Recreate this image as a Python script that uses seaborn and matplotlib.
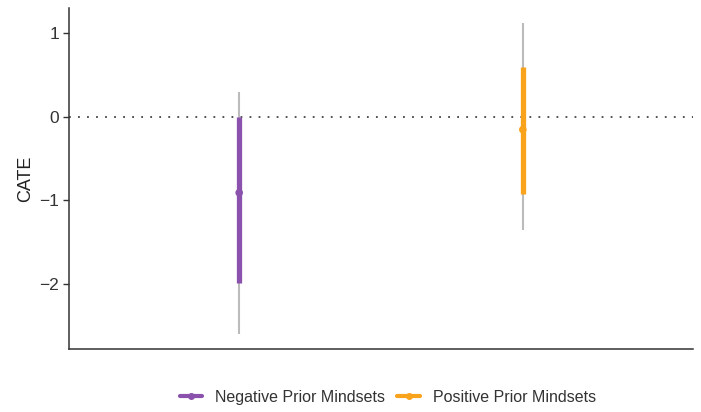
import matplotlib
matplotlib.use("Agg")
import matplotlib.pyplot as plt
from matplotlib.lines import Line2D
import seaborn as sns
import pandas as pd

# Conditional average treatment effects by prior mindset
groups = ["Negative Prior Mindsets", "Positive Prior Mindsets"]
cate = [-0.91, -0.155]
inner_low = [-1.99, -0.93]
inner_high = [0.0, 0.60]
outer_low = [-2.60, -1.36]
outer_high = [0.30, 1.12]
colors = ["#8A52AC", "#F9A21B"]

df = pd.DataFrame({
    "group": groups, "cate": cate,
    "inner_low": inner_low, "inner_high": inner_high,
    "outer_low": outer_low, "outer_high": outer_high,
})

sns.set_theme(style="white")
plt.rcParams["font.family"] = ["Liberation Sans", "DejaVu Sans"]

fig = plt.figure(figsize=(7.01, 4.12), dpi=100)
ax = fig.add_axes([69 / 701, 1 - 349 / 412, 624 / 701, 341 / 412])

ax.axhline(0, color="#444444", lw=1.3, ls=(0, (1, 4)), zorder=1)

pos = range(len(df))
ax.vlines(list(pos), df["outer_low"], df["outer_high"], color="#BBBBBB", lw=1.5, zorder=2)
ax.vlines(list(pos), df["inner_low"], df["inner_high"], color=colors, lw=3.8, zorder=3)
sns.scatterplot(data=df, x="group", y="cate", hue="group", palette=colors,
                s=30, edgecolor="none", legend=False, ax=ax, zorder=4)

ax.set_xlim(-0.6, 1.6)
ax.set_ylim(-2.78, 1.30)
ax.set_yticks([-2, -1, 0, 1])
ax.set_yticklabels(["\u22122", "\u22121", "0", "1"])
ax.set_xticks([])
ax.set_xlabel("")
ax.set_ylabel("CATE", fontsize=13, color="#222222", labelpad=4)
ax.tick_params(axis="y", length=4, width=1, color="#333333", labelsize=12.5,
               labelcolor="#333333", left=True, pad=3)
for side in ["top", "right"]:
    ax.spines[side].set_visible(False)
for side in ["left", "bottom"]:
    ax.spines[side].set_color("#333333")
    ax.spines[side].set_linewidth(1.1)

handles = [Line2D([0], [0], color=c, lw=3.0, marker="o", markersize=4) for c in colors]
fig.legend(handles, groups, loc="lower center", ncol=2, frameon=False,
           bbox_to_anchor=(0.553, -0.017), fontsize=11.5, handlelength=1.4,
           columnspacing=0.8, handletextpad=0.8, labelcolor="#333333")

fig.savefig("out.png", dpi=100)
